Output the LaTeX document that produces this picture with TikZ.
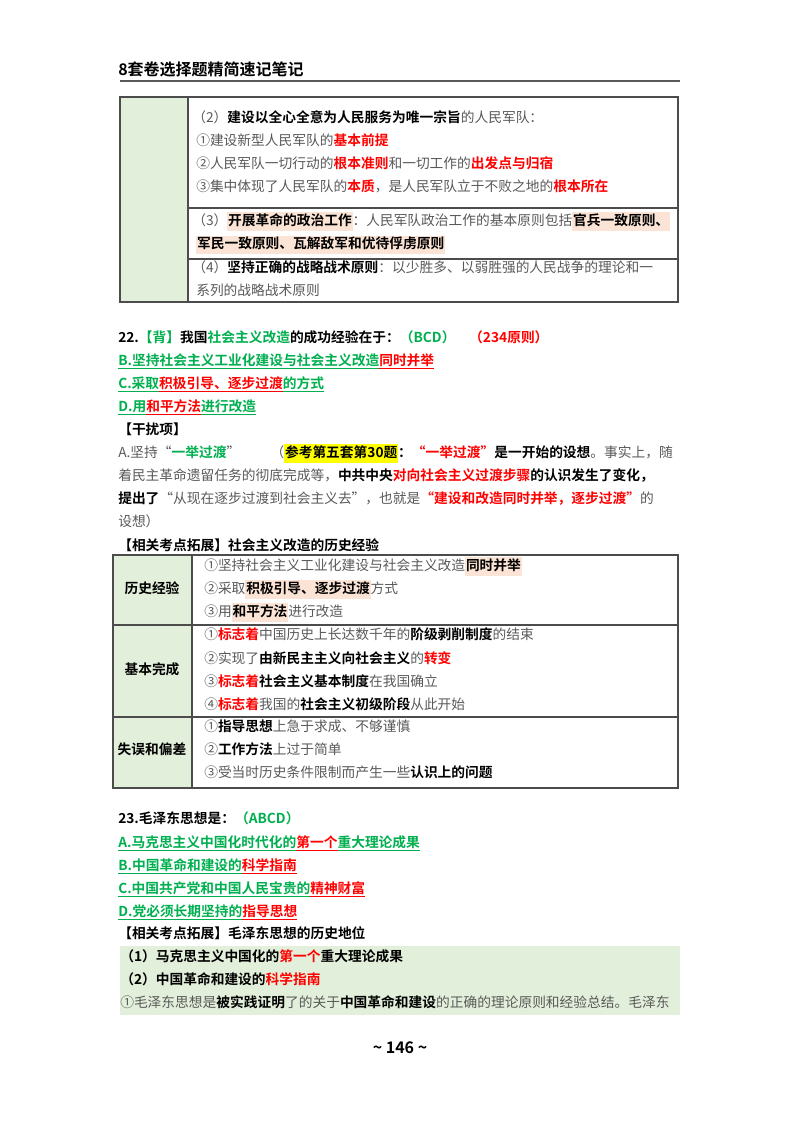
\documentclass[tikz,border=0pt]{standalone}
\usepackage{fontspec}
\setmainfont{Noto Sans CJK SC}[BoldFont={Noto Sans CJK SC Bold}]
\definecolor{tg}{HTML}{595959}
\definecolor{rd}{HTML}{FF0000}
\definecolor{gn}{HTML}{00B050}
\definecolor{pe}{HTML}{FBE4D5}
\definecolor{lg}{HTML}{E2EFDA}
\definecolor{yl}{HTML}{FFFF00}
\newcommand{\fs}{\fontsize{10.3}{12}\selectfont}
\newcommand{\Bk}[1]{{\bfseries\color{black}#1}}
\newcommand{\Rd}[1]{{\bfseries\color{rd}#1}}
\newcommand{\Gn}[1]{{\bfseries\color{gn}#1}}
\newcommand{\Pe}[1]{{\setlength\fboxsep{0.6pt}\colorbox{pe}{\strut #1}}}
\newcommand{\Yl}[1]{{\setlength\fboxsep{0.6pt}\colorbox{yl}{\strut #1}}}
\newcommand{\Ug}[1]{{\bfseries\color{gn}$\underline{\hbox{#1}}$}}
\newcommand{\Ur}[1]{{\bfseries\color{rd}$\underline{\hbox{#1}}$}}
\begin{document}
\begin{tikzpicture}[x=0.75pt,y=-0.75pt,
  t/.style={anchor=base west,inner sep=0pt,font=\fs,text=tg},
  lab/.style={anchor=center,inner sep=0pt,font=\fs\bfseries,text=black},
  frame/.style={draw=black!70,line width=0.8pt}]
\useasboundingbox[fill=white] (0,0) rectangle (800,1132);
% header
\node[anchor=base west,inner sep=0pt,font=\fontsize{12}{14}\selectfont\bfseries] (hd) at (118,75) {8套卷选择题精简速记笔记};
\draw[line width=1.6pt,black!65] (120,81) -- (680,81);
% table 1
\fill[lg] (120,97) rectangle (188,302);
\draw[frame] (120,97) rectangle (678,302);
\draw[frame] (188,97) -- (188,302);
\draw[frame] (188,208) -- (678,208);
\draw[frame] (188,259) -- (678,259);
\node[t] (a1) at (192,122) {（2）\Bk{建设以全心全意为人民服务为唯一宗旨}的人民军队：};
\node[t] (a2) at (196,145) {①建设新型人民军队的\Rd{基本前提}};
\node[t] (a3) at (196,168) {②人民军队一切行动的\Rd{根本准则}和一切工作的\Rd{出发点与归宿}};
\node[t] (a4) at (196,191) {③集中体现了人民军队的\Rd{本质}，是人民军队立于不败之地的\Rd{根本所在}};
\node[t] (a5) at (192,225) {（3）\Pe{\Bk{开展革命的政治工作}}：人民军队政治工作的基本原则包括\Pe{\Bk{官兵一致原则、}}};
\node[t] (a6) at (196,248) {\Pe{\Bk{军民一致原则、瓦解敌军和优待俘虏原则}}};
\node[t] (a7) at (192,272) {（4）\Bk{坚持正确的战略战术原则}：以少胜多、以弱胜强的人民战争的理论和一};
\node[t] (a8) at (196,295) {系列的战略战术原则};
% Q22
\node[t] (q1) at (118,342) {\Bk{22.}\Gn{【背】}\Bk{我国}\Gn{社会主义改造}\Bk{的成功经验在于：}\Gn{（BCD）}\quad\Rd{（234原则）}};
\node[t] (q2) at (118,365) {\Ug{B.坚持社会主义工业化建设与社会主义改造}\Ur{同时并举}};
\node[t] (q3) at (118,388) {\Ug{C.采取}\Ur{积极引导、逐步过渡}\Ug{的方式}};
\node[t] (q4) at (118,411) {\Ug{D.用}\Ur{和平方法}\Ug{进行改造}};
\node[t] (g0) at (118,434) {\Bk{【干扰项】}};
\node[t] (g1) at (118,457) {A.坚持“\Gn{一举过渡}”\hspace{2.2em}（\Yl{\Bk{参考第五套第30题}}\Bk{：}\Rd{“一举过渡”}\Bk{是一开始的设想}。事实上，随};
\node[t] (g2) at (118,480) {着民主革命遗留任务的彻底完成等，\Bk{中共中央}\Rd{对向社会主义过渡步骤}\Bk{的认识发生了变化，}};
\node[t] (g3) at (118,503) {\Bk{提出了}“从现在逐步过渡到社会主义去”，也就是\Rd{“建设和改造同时并举，逐步过渡”}的};
\node[t] (g4) at (118,526) {设想）};
\node[t] (x0) at (118,550) {\Bk{【相关考点拓展】社会主义改造的历史经验}};
% table 2
\fill[lg] (113,555) rectangle (192,788);
\draw[frame] (113,555) rectangle (678,788);
\draw[frame] (192,555) -- (192,788);
\draw[frame] (113,625) -- (678,625);
\draw[frame] (113,717) -- (678,717);
\node[lab] (l1) at (152,588) {历史经验};
\node[lab] (l2) at (152,669) {基本完成};
\node[lab] (l3) at (152,749) {失误和偏差};
\node[t] (b1) at (204,570) {①坚持社会主义工业化建设与社会主义改造\Pe{\Bk{同时并举}}};
\node[t] (b2) at (204,593) {②采取\Pe{\Bk{积极引导、逐步过渡}}方式};
\node[t] (b3) at (204,616) {③用\Pe{\Bk{和平方法}}进行改造};
\node[t] (b4) at (204,639) {①\Rd{标志着}中国历史上长达数千年的\Bk{阶级剥削制度}的结束};
\node[t] (b5) at (204,663) {②实现了\Bk{由新民主主义向社会主义}的\Rd{转变}};
\node[t] (b6) at (204,686) {③\Rd{标志着}\Bk{社会主义基本制度}在我国确立};
\node[t] (b7) at (204,709) {④\Rd{标志着}我国的\Bk{社会主义初级阶段}从此开始};
\node[t] (b8) at (204,731) {①\Bk{指导思想}上急于求成、不够谨慎};
\node[t] (b9) at (204,754) {②\Bk{工作方法}上过于简单};
\node[t] (b10) at (204,777) {③受当时历史条件限制而产生一些\Bk{认识上的问题}};
% Q23
\node[t] (r1) at (118,823) {\Bk{23.毛泽东思想是：}\Gn{（ABCD）}};
\node[t] (r2) at (118,847) {\Ug{A.马克思主义中国化时代化的}\Ur{第一个}\Ug{重大理论成果}};
\node[t] (r3) at (118,870) {\Ug{B.中国革命和建设的}\Ur{科学指南}};
\node[t] (r4) at (118,893) {\Ug{C.中国共产党和中国人民宝贵的}\Ur{精神财富}};
\node[t] (r5) at (118,916) {\Ug{D.党必须长期坚持的}\Ur{指导思想}};
\node[t] (r6) at (118,938) {\Bk{【相关考点拓展】毛泽东思想的历史地位}};
\fill[lg] (120,946) rectangle (680,1015);
\node[t] (s1) at (120,961) {\Bk{（1）马克思主义中国化的}\Rd{第一个}\Bk{重大理论成果}};
\node[t] (s2) at (120,984) {\Bk{（2）中国革命和建设的}\Rd{科学指南}};
\node[t] (s3) at (120,1007) {①毛泽东思想是\Bk{被实践证明}了的关于\Bk{中国革命和建设}的正确的理论原则和经验总结。毛泽东};
% footer
\node[anchor=center,inner sep=0pt,font=\fontsize{12}{14}\selectfont\bfseries] (ft) at (400,1048) {\textasciitilde\ 146 \textasciitilde};
\end{tikzpicture}
\end{document}
